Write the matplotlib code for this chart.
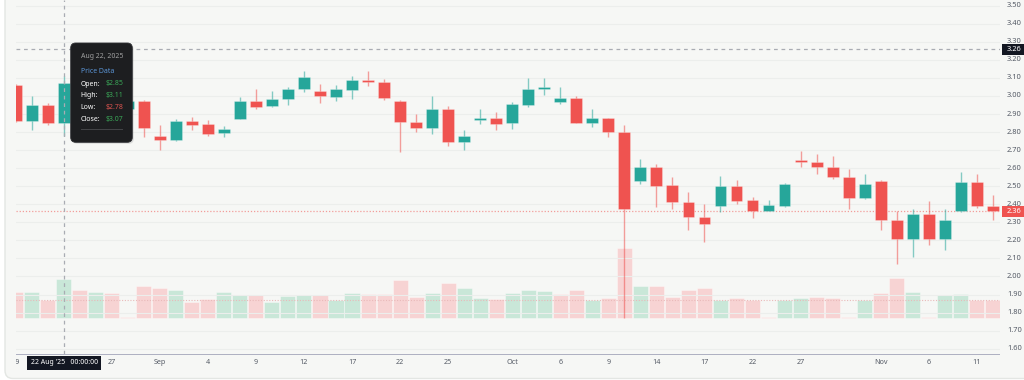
import matplotlib
matplotlib.use("Agg")
import matplotlib.pyplot as plt
import matplotlib.transforms as mtransforms
from matplotlib.patches import FancyBboxPatch, Rectangle
import pandas as pd

plt.rcParams['font.family'] = ['Noto Sans', 'DejaVu Sans']

# ---------------- data ----------------
dates = pd.bdate_range("2025-08-19", periods=62)

opens = [3.06, 2.86, 2.95, 2.85, 3.07, 2.95, 3.02, 2.93, 2.97, 2.78,
         2.755, 2.86, 2.845, 2.795, 2.875, 2.97, 2.945, 2.985, 3.04, 3.03,
         2.995, 3.035, 3.09, 3.075, 2.97, 2.855, 2.825, 2.925, 2.745, 2.865,
         2.88, 2.85, 2.95, 3.04, 2.965, 2.99, 2.852, 2.88, 2.80, 2.53,
         2.605, 2.505, 2.41, 2.33, 2.39, 2.50, 2.425, 2.365, 2.39, 2.645,
         2.635, 2.605, 2.55, 2.435, 2.53, 2.31, 2.21, 2.345, 2.21, 2.365,
         2.525, 2.39]
highs = [3.065, 3.00, 2.96, 3.11, 3.09, 3.05, 3.04, 2.99, 2.98, 2.84,
         2.87, 2.885, 2.865, 2.835, 2.995, 3.04, 3.025, 3.05, 3.14, 3.065,
         3.06, 3.11, 3.14, 3.095, 2.98, 2.90, 3.00, 2.945, 2.81, 2.93,
         2.91, 2.965, 3.10, 3.10, 3.05, 3.00, 2.925, 2.88, 2.84, 2.65,
         2.625, 2.55, 2.47, 2.40, 2.555, 2.535, 2.44, 2.425, 2.52, 2.695,
         2.68, 2.665, 2.595, 2.57, 2.535, 2.36, 2.375, 2.42, 2.375, 2.58,
         2.565, 2.45]
lows = [2.855, 2.81, 2.84, 2.78, 2.93, 2.92, 2.90, 2.91, 2.77, 2.70,
        2.75, 2.81, 2.78, 2.775, 2.87, 2.93, 2.94, 2.95, 3.02, 2.96,
        2.97, 2.985, 3.055, 2.98, 2.69, 2.80, 2.79, 2.72, 2.70, 2.845,
        2.81, 2.815, 2.94, 3.005, 2.955, 2.85, 2.83, 2.77, 1.77, 2.51,
        2.385, 2.375, 2.255, 2.19, 2.355, 2.40, 2.325, 2.36, 2.385, 2.605,
        2.57, 2.54, 2.375, 2.43, 2.26, 2.07, 2.11, 2.175, 2.145, 2.355,
        2.38, 2.31]
closes = [2.86, 2.95, 2.85, 3.07, 2.95, 3.02, 2.93, 2.97, 2.82, 2.755,
          2.86, 2.84, 2.79, 2.815, 2.97, 2.94, 2.985, 3.04, 3.105, 3.00,
          3.04, 3.09, 3.075, 2.99, 2.855, 2.825, 2.925, 2.745, 2.78, 2.88,
          2.845, 2.955, 3.04, 3.04, 2.99, 2.852, 2.88, 2.80, 2.375, 2.605,
          2.50, 2.41, 2.33, 2.29, 2.50, 2.42, 2.365, 2.395, 2.51, 2.635,
          2.605, 2.55, 2.435, 2.51, 2.31, 2.21, 2.345, 2.21, 2.315, 2.525,
          2.39, 2.36]
volumes = [1.30, 1.30, 0.87, 1.94, 1.40, 1.30, 1.23, 0.03, 1.57, 1.50,
           1.40, 0.80, 0.92, 1.28, 1.15, 1.12, 0.80, 1.07, 1.15, 1.15,
           0.88, 1.23, 1.18, 1.18, 1.90, 1.02, 1.22, 1.72, 1.47, 0.97,
           0.92, 1.24, 1.38, 1.32, 1.20, 1.38, 0.88, 0.98, 3.50, 1.58,
           1.57, 1.03, 1.40, 1.48, 0.88, 0.97, 0.87, 0.03, 0.88, 0.97,
           1.05, 0.98, 0.03, 0.88, 1.25, 2.00, 1.30, 0.03, 1.13, 1.20,
           0.87, 0.87]
vol_dir = ("dudududddd" "udduuduuud" "uudddduduu" "duuudduddu"
           "dddduddduu" "dddudduduu" "dd")

tick_dates = ["2025-08-19", "2025-08-27", "2025-09-01", "2025-09-04",
              "2025-09-09", "2025-09-12", "2025-09-17", "2025-09-22",
              "2025-09-25", "2025-10-01", "2025-10-06", "2025-10-09",
              "2025-10-14", "2025-10-17", "2025-10-22", "2025-10-27",
              "2025-11-03", "2025-11-06", "2025-11-11"]
tick_labels = ["19", "27", "Sep", "4", "9", "12", "17", "22", "25", "Oct",
               "6", "9", "14", "17", "22", "27", "Nov", "6", "11"]
price_ticks = [1.60, 1.70, 1.80, 1.90, 2.00, 2.10, 2.20, 2.30, 2.40, 2.50,
               2.60, 2.70, 2.80, 2.90, 3.00, 3.10, 3.20, 3.30, 3.40, 3.50]

cross_date = "2025-08-22"
cross_price = 3.26

# ---------------- styles ----------------
UP, DOWN = "#26a69a", "#ef5350"
VOL_UP, VOL_DOWN = "#c9e7d8", "#f7d3d3"
BG = "#f6f7f5"
W, H = 1024, 380

fig = plt.figure(figsize=(W / 100, H / 100), dpi=100)
fig.patch.set_facecolor("white")

# card background
ax_bg = fig.add_axes([0, 0, 1, 1], zorder=0)
ax_bg.set_xlim(0, W)
ax_bg.set_ylim(H, 0)
ax_bg.axis("off")
ax_bg.add_patch(FancyBboxPatch((5, -20), W + 20, 398.5, boxstyle="round,pad=0,rounding_size=8",
                               facecolor=BG, edgecolor="#e3e6e3", lw=1))

# plot area geometry (pixels)
L, R, T, B = 16, 1000, 0, 354
x0_px, dx_px = 15.6, 16.02
y350_px, ppu = 5.7, 180.5  # pixel of 3.50 and pixels per price unit
vol0_px, vppu = 317.7, 20.0

rect = [L / W, 1 - B / H, (R - L) / W, (B - T) / H]
xl = ((L - x0_px) / dx_px, (R - x0_px) / dx_px)

ax_v = fig.add_axes(rect, zorder=1)
ax_v.set_facecolor("none")
ax_v.set_xlim(*xl)
ax_v.set_ylim(-(B - vol0_px) / vppu, (vol0_px - T) / vppu)
ax_v.axis("off")

ax = fig.add_axes(rect, zorder=2)
ax.set_facecolor("none")
ax.set_xlim(*xl)
ax.set_ylim(3.50 - (B - y350_px) / ppu, 3.50 + (y350_px - T) / ppu)
for s in ax.spines.values():
    s.set_visible(False)
ax.set_xticks([])
ax.set_yticks([])

n = len(dates)
xs = list(range(n))

# grid
for p in price_ticks:
    ax.axhline(p, color="#eceeec", lw=0.8, zorder=0)

# volume
ax_v.bar(xs, volumes, width=0.94, bottom=0,
         color=[VOL_UP if d == "u" else VOL_DOWN for d in vol_dir],
         edgecolor=(1, 1, 1, 0.5), linewidth=0.5, zorder=1)
ax_v.axhline(volumes[-1], color="#e9b9b9", lw=0.8, ls=(0, (1, 1.5)), zorder=1.5)

# candles
up = [c >= o for o, c in zip(opens, closes)]
cols = [UP if u else DOWN for u in up]
ax.vlines(xs, lows, highs, colors=cols, lw=1.0, alpha=0.55, zorder=3)
bottoms = [min(o, c) for o, c in zip(opens, closes)]
heights = [max(abs(c - o), 0.007) for o, c in zip(opens, closes)]
ax.bar(xs, heights, bottom=bottoms, width=0.74, color=cols,
       edgecolor=[(1, 1, 1, 0.35)] * n, linewidth=0.5, zorder=4)

# last price line
last = closes[-1]
ax.axhline(last, color=DOWN, lw=0.9, ls=(0, (1, 1.5)), alpha=0.55, zorder=2)

# crosshair
ci = dates.get_loc(pd.Timestamp(cross_date))
ax.axvline(ci, color="#a9acb3", lw=0.9, ls=(0, (3, 3)), zorder=5)
ax.axhline(cross_price, color="#a9acb3", lw=0.9, ls=(0, (3, 3)), zorder=5)

# time axis (separate strip so labels are clipped at the pane edge)
ax_t = fig.add_axes([L / W, 0, (R - L) / W, (H - B) / H], zorder=3)
ax_t.set_xlim(*xl)
ax_t.set_ylim(H - B, 0)
ax_t.axis("off")
ax_t.patch.set_alpha(0)
ax_t.axhline(0.4, color="#a1a4b8", lw=1.2, zorder=6)
for d, lab in zip(tick_dates, tick_labels):
    i = dates.get_loc(pd.Timestamp(d))
    ax_t.text(i, 8, lab, ha="center", va="center", fontsize=5.2,
              color="#555b66", clip_on=True, zorder=7)

# price labels on the right
rt = mtransforms.blended_transform_factory(ax.transAxes, ax.transData)
lx = 1 + (1007 - R) / (R - L)
for p in price_ticks:
    ax.text(lx, p, f"{p:.2f}", transform=rt, ha="left", va="center",
            fontsize=5.4, color="#555b66", clip_on=False)

# overlay for boxes / tooltip
ov = fig.add_axes([0, 0, 1, 1], zorder=10)
ov.set_xlim(0, W)
ov.set_ylim(H, 0)
ov.axis("off")
ov.patch.set_alpha(0)

def ypix(price):
    return y350_px + (3.50 - price) * ppu

# price label boxes
yc = ypix(cross_price)
ov.add_patch(Rectangle((1002, yc - 5.5), 24, 11, facecolor="#131722", edgecolor="none"))
ov.text(1007, yc, f"{cross_price:.2f}", ha="left", va="center", fontsize=5.4, color="white")
yl = ypix(last)
ov.add_patch(Rectangle((1002, yl - 5.5), 24, 11, facecolor=DOWN, edgecolor="none"))
ov.text(1007, yl, f"{last:.2f}", ha="left", va="center", fontsize=5.4, color="white")

# crosshair date box
ov.add_patch(Rectangle((27, 355.5), 74, 14, facecolor="#131722", edgecolor="none"))
cd = pd.Timestamp(cross_date)
ov.text(31, 362.5, cd.strftime("%d %b '%y") + "   00:00:00", ha="left", va="center",
        fontsize=5.0, color="white")

# tooltip
o, h, l, c = opens[ci], highs[ci], lows[ci], closes[ci]
ov.add_patch(FancyBboxPatch((72.2, 44.5), 61.6, 99.3, boxstyle="round,pad=0,rounding_size=5",
                            facecolor=(0, 0, 0, 0.10), edgecolor="none"))
ov.add_patch(FancyBboxPatch((70.7, 43), 61.6, 99.3, boxstyle="round,pad=0,rounding_size=5",
                            facecolor="#1d1e20", edgecolor="#2e2f33", lw=0.6))
tx = 80.7
ov.text(tx, 56.7, cd.strftime("%b %d, %Y"), ha="left", va="center", fontsize=5.0, color="#a0a0a0")
ov.text(tx, 71.7, "Price Data", ha="left", va="center", fontsize=5.0, color="#5b95d6",
        fontweight="bold")
GREEN_T, RED_T = "#3aa657", "#d9534f"
rows = [("Open:", o, GREEN_T, 84.0), ("High:", h, GREEN_T, 95.7),
        ("Low:", l, RED_T, 107.2), ("Close:", c, GREEN_T, 119.5)]
for name, v, col, yy in rows:
    ov.text(tx, yy, name, ha="left", va="center", fontsize=5.0, color="white")
    ov.text(106, yy, f"${v:.2f}", ha="left", va="center", fontsize=5.0, color=col)
ov.plot([tx, 122], [129, 129], color="#444548", lw=0.7)

fig.savefig("out.png", dpi=100, facecolor="white")
